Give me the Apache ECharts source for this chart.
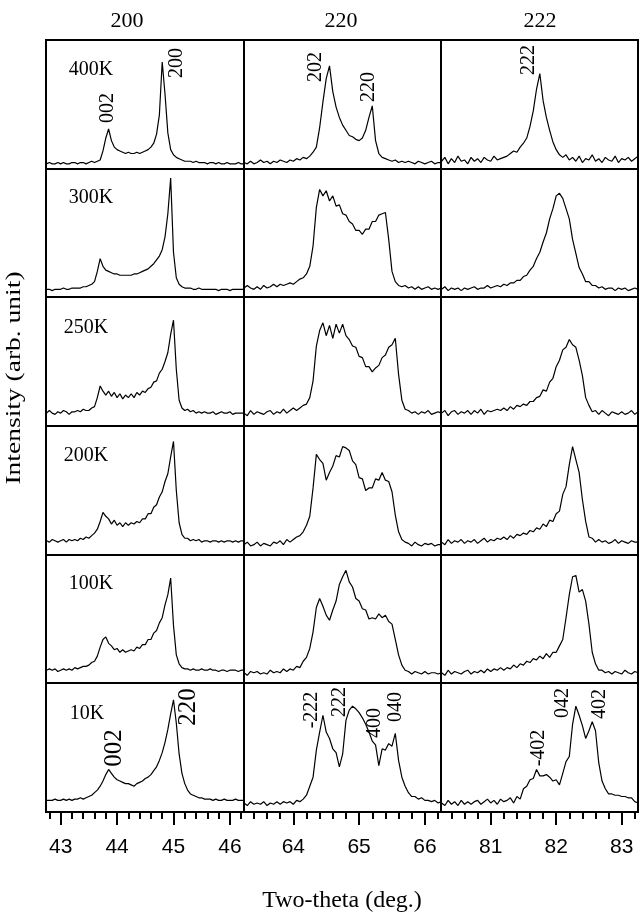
<!DOCTYPE html>
<html><head><meta charset="utf-8">
<script src="https://cdn.jsdelivr.net/npm/echarts@6/dist/echarts.min.js"></script>
<style>html,body{margin:0;padding:0;background:#fff}#c{width:640px;height:921px}</style>
</head><body><div id="c"></div>
<script>
// ---------------- DATA ----------------
const columnTitles = ['200', '220', '222'];
const rowLabels = ['400K', '300K', '250K', '200K', '100K', '10K'];

const x200 = [42.75,42.8,42.85,42.9,42.95,43,43.05,43.1,43.15,43.2,43.25,43.3,43.35,43.4,43.45,43.5,43.55,43.6,43.65,43.7,43.75,43.8,43.85,43.9,43.95,44,44.05,44.1,44.15,44.2,44.25,44.3,44.35,44.4,44.45,44.5,44.55,44.6,44.65,44.7,44.75,44.8,44.85,44.9,44.95,45,45.05,45.1,45.15,45.2,45.25,45.3,45.35,45.4,45.45,45.5,45.55,45.6,45.65,45.7,45.75,45.8,45.85,45.9,45.95,46,46.05,46.1,46.15,46.2,46.25];
const x220 = [63.25,63.3,63.35,63.4,63.45,63.5,63.55,63.6,63.65,63.7,63.75,63.8,63.85,63.9,63.95,64,64.05,64.1,64.15,64.2,64.25,64.3,64.35,64.4,64.45,64.5,64.55,64.6,64.65,64.7,64.75,64.8,64.85,64.9,64.95,65,65.05,65.1,65.15,65.2,65.25,65.3,65.35,65.4,65.45,65.5,65.55,65.6,65.65,65.7,65.75,65.8,65.85,65.9,65.95,66,66.05,66.1,66.15,66.2,66.25];
const x222 = [80.25,80.3,80.35,80.4,80.45,80.5,80.55,80.6,80.65,80.7,80.75,80.8,80.85,80.9,80.95,81,81.05,81.1,81.15,81.2,81.25,81.3,81.35,81.4,81.45,81.5,81.55,81.6,81.65,81.7,81.75,81.8,81.85,81.9,81.95,82,82.05,82.1,82.15,82.2,82.25,82.3,82.35,82.4,82.45,82.5,82.55,82.6,82.65,82.7,82.75,82.8,82.85,82.9,82.95,83,83.05,83.1,83.15,83.2,83.25];

const xRange200 = [42.74, 46.25];
const xRange220 = [63.25, 66.245];
const xRange222 = [80.241, 83.249];

const majorTicks200 = [43, 44, 45, 46];
const minorTicks200 = [42.8,43.2,43.4,43.6,43.8,44.2,44.4,44.6,44.8,45.2,45.4,45.6,45.8,46.2];
const majorTicks220 = [64, 65, 66];
const minorTicks220 = [63.4,63.6,63.8,64.2,64.4,64.6,64.8,65.2,65.4,65.6,65.8,66.2];
const majorTicks222 = [81, 82, 83];
const minorTicks222 = [80.4,80.6,80.8,81.2,81.4,81.6,81.8,82.2,82.4,82.6,82.8,83.2];

// intensities (arb. unit, % of panel height)
const i400_200 = [4,5,4,4,5,4,5,4,4,5, 5,4,5,5,4,5,6,5,6,7, 14,24,31,22,17,15,14,13,12,13, 12,12,13,12,13,14,15,17,20,27, 42,83,58,28,15,11,9,8,7,6, 6,6,5,6,5,5,5,4,5,5, 4,5,4,4,5,4,4,4,5,4, 4];
const i300_200 = [6,6,5,6,6,6,7,6,6,7, 7,7,7,8,8,9,10,12,20,30, 24,21,20,19,18,18,17,17,17,17, 17,18,18,19,20,21,22,24,26,29, 32,37,47,65,93,35,15,10,8,7, 7,7,6,6,7,6,6,6,6,6, 6,5,6,6,6,5,6,6,6,6, 6];
const i250_200 = [10,12,10,9,11,10,12,11,9,11, 11,12,11,13,12,12,14,15,22,31, 27,24,27,23,26,22,25,21,24,22, 25,22,26,24,27,26,29,30,34,35, 41,44,50,57,71,82,44,20,14,12, 13,11,12,10,11,10,11,10,10,11, 9,10,11,10,10,11,9,10,10,10, 10];
const i200_200 = [11,10,12,11,10,11,12,10,12,11, 12,11,13,12,14,13,15,17,20,26, 33,30,28,24,27,23,25,22,25,23, 25,24,26,25,28,28,32,32,37,39, 45,49,57,63,76,88,50,25,16,13, 13,11,12,11,12,10,11,11,10,11, 11,10,11,10,11,11,10,11,10,11, 11];
const i100_200 = [10,11,10,11,9,10,11,10,11,10, 12,11,12,13,13,14,16,17,21,28, 34,36,31,29,26,27,24,26,24,25, 26,25,28,27,30,30,34,34,39,41, 47,51,61,69,82,45,22,15,12,11, 11,10,11,10,10,11,10,10,11,10, 10,9,10,10,9,10,10,10,9,10, 10];
const i10_200 = [9,9,9,10,9,9,10,9,10,9, 10,10,11,10,11,12,13,15,17,20, 24,29,33,30,27,25,24,23,22,22, 21,20,22,23,24,26,27,29,32,35, 40,46,54,64,76,87,69,45,30,22, 17,14,13,12,11,11,10,10,10,9, 10,9,9,10,9,9,9,10,9,9, 9];

const i400_220 = [5,4,6,4,5,7,5,6,4,6, 5,7,6,5,7,6,8,7,9,8, 10,13,17,32,52,70,80,60,48,40, 34,30,26,25,23,22,24,30,40,49, 22,12,9,8,7,6,7,5,6,5, 6,5,4,6,5,4,5,6,4,5, 5];
const i300_220 = [7,9,7,6,8,6,9,7,8,10, 8,10,9,10,11,10,12,14,15,18, 24,40,70,84,79,83,75,79,71,72, 65,64,59,57,52,52,49,53,53,59, 59,64,65,66,45,20,12,9,8,9, 7,8,6,8,6,7,8,6,7,6, 7];
const i250_220 = [10,8,12,9,11,10,9,11,12,9, 11,10,13,10,12,14,12,14,16,17, 22,35,62,74,80,70,78,68,79,72, 79,70,67,62,61,54,53,46,46,42, 45,47,53,55,61,63,68,40,20,13, 12,10,11,9,11,10,12,9,10,11, 10];
const i200_220 = [8,10,7,8,10,7,9,8,7,10, 9,11,8,12,10,12,14,15,18,23, 30,52,78,74,71,58,64,69,77,76, 84,83,81,73,70,60,59,50,52,52, 59,58,64,58,57,49,31,18,12,10, 9,7,10,8,7,9,8,9,7,8, 8];
const i100_220 = [8,6,9,8,9,7,8,7,10,8, 9,8,11,9,11,10,13,12,17,20, 27,40,59,66,60,53,49,57,64,77, 83,88,79,75,66,64,58,57,50,51, 50,54,51,53,48,46,34,22,14,10, 9,7,9,8,7,9,7,8,8,7, 8];
const i10_220 = [7,5,8,6,7,6,8,5,7,6, 8,6,8,7,8,6,9,8,10,13, 20,27,48,62,75,62,57,49,46,35, 45,71,79,82,80,77,73,68,62,55, 52,36,49,48,53,51,61,40,27,20, 15,12,12,10,11,9,9,8,9,7, 8];

const i400_222 = [6,9,4,8,5,10,6,7,4,9, 6,8,5,9,7,6,10,7,8,9, 10,12,14,13,17,20,24,33,45,62, 74,53,40,30,21,15,11,9,11,7, 9,6,10,5,8,7,11,6,8,5, 9,7,6,10,5,8,7,9,6,8, 10];
const i300_222 = [6,8,5,7,6,7,5,7,6,7, 8,6,7,7,9,7,8,9,8,10, 9,11,11,13,13,16,17,21,24,30, 35,43,50,61,69,79,81,77,69,61, 45,34,23,18,12,12,9,9,7,8, 6,7,7,5,7,6,7,5,6,7, 6];
const i250_222 = [10,12,8,11,12,9,11,10,12,9, 12,10,13,9,12,11,12,13,12,14, 12,15,13,16,15,17,16,19,19,22, 23,28,27,34,37,46,51,59,61,67, 63,61,51,39,22,16,11,12,9,12, 10,8,11,10,9,11,9,10,12,9, 11];
const i200_222 = [10,8,12,9,11,10,12,9,11,10, 12,9,11,13,10,12,11,13,12,14, 12,15,13,16,15,17,16,19,18,21, 20,24,22,27,26,32,34,47,53,70, 84,74,64,43,26,14,13,10,12,10, 11,9,10,12,9,11,10,9,11,10, 10];
const i100_222 = [8,6,10,7,9,8,7,9,10,7, 9,8,10,8,11,9,11,10,12,10, 12,11,14,12,15,14,17,16,19,18, 21,19,23,20,24,24,29,34,51,69, 83,84,71,73,64,46,24,15,10,10, 8,9,7,9,8,7,10,8,7,9, 8];
const i10_222 = [7,5,9,6,8,5,9,6,8,6, 8,9,6,8,10,7,9,6,10,8, 9,11,7,12,10,18,20,25,26,33, 28,28,29,27,24,25,21,30,39,43, 68,82,75,67,57,63,70,63,38,24, 18,14,14,13,13,12,12,11,11,8, 7];

// peak annotations: [row, col, text, x, y, fontSize]
const peakLabels = [
  [0, 0, '002', 108, 108, 20], [0, 0, '200', 177, 63, 20],
  [0, 1, '202', 316, 67, 20], [0, 1, '220', 369, 87, 20],
  [0, 2, '222', 529, 60, 20],
  [5, 0, '002', 114, 748, 25], [5, 0, '220', 188, 707, 25],
  [5, 1, '-222', 312, 710, 20], [5, 1, '222', 340, 702, 20], [5, 1, '400', 375, 723, 20], [5, 1, '040', 396, 707, 20],
  [5, 2, '-402', 539, 748, 20], [5, 2, '042', 563, 703, 20], [5, 2, '402', 600, 704, 20]
];

// ---------------- LAYOUT ----------------
const colLeft = [46, 244, 441];
const colWidth = [198, 197, 197];
const rowTop = [40, 169, 297, 426, 555, 683];
const rowHeight = [129, 128, 129, 129, 128, 129];
const rowLabelPos = [[91, 70], [91, 198], [86, 328], [86, 456], [91, 584], [87, 714]];

const xCols = [x200, x220, x222];
const xRanges = [xRange200, xRange220, xRange222];
const majors = [majorTicks200, majorTicks220, majorTicks222];
const minors = [minorTicks200, minorTicks220, minorTicks222];
const Y = [
  [i400_200, i400_220, i400_222],
  [i300_200, i300_220, i300_222],
  [i250_200, i250_220, i250_222],
  [i200_200, i200_220, i200_222],
  [i100_200, i100_220, i100_222],
  [i10_200, i10_220, i10_222]
];

const grid = [], xAxis = [], yAxis = [], series = [];
const serif = '"Liberation Serif", "Times New Roman", serif';
const sans = '"Liberation Sans", Arial, sans-serif';

for (let r = 0; r < 6; r++) {
  for (let c = 0; c < 3; c++) {
    const gi = grid.length;
    grid.push({
      left: colLeft[c], top: rowTop[r], width: colWidth[c], height: rowHeight[r],
      show: true, borderColor: '#000', borderWidth: 2, backgroundColor: 'transparent'
    });
    const bottom = (r === 5);
    const xi = xAxis.length;
    xAxis.push({
      type: 'value', gridIndex: gi, min: xRanges[c][0], max: xRanges[c][1],
      axisLine: { show: false }, splitLine: { show: false },
      axisTick: bottom ? { show: true, inside: false, length: 13, lineStyle: { color: '#000', width: 2 }, customValues: majors[c] } : { show: false },
      axisLabel: bottom ? { show: true, customValues: majors[c], margin: 25, color: '#000', fontSize: 21, fontFamily: sans } : { show: false }
    });
    if (bottom) {
      xAxis.push({
        type: 'value', gridIndex: gi, min: xRanges[c][0], max: xRanges[c][1], position: 'bottom',
        axisLine: { show: false }, splitLine: { show: false },
        axisTick: { show: true, inside: false, length: 7, lineStyle: { color: '#000', width: 2 }, customValues: minors[c] },
        axisLabel: { show: false }
      });
    }
    yAxis.push({ type: 'value', gridIndex: gi, min: 0, max: 100, show: false });
    const xs = xCols[c], ys = Y[r][c];
    series.push({
      type: 'line', xAxisIndex: xi, yAxisIndex: gi, showSymbol: false, symbol: 'none',
      data: xs.map((x, k) => [x, ys[k]]),
      lineStyle: { color: '#000', width: 1.2 }, animation: false, silent: true
    });
  }
}

const graphic = [];
function txt(t, x, y, size, font, rot, sx) {
  graphic.push({
    type: 'text', x: x, y: y, rotation: rot || 0, scaleX: sx || 1,
    style: { text: t, fill: '#000', font: size + 'px ' + font, align: 'center', verticalAlign: 'middle', textAlign: 'center', textVerticalAlign: 'middle' }
  });
}
const headerX = [127, 341, 540];
columnTitles.forEach((t, c) => txt(t, headerX[c], 21, 22, serif));
rowLabels.forEach((t, r) => txt(t, rowLabelPos[r][0], rowLabelPos[r][1], 20, serif));
peakLabels.forEach(p => txt(p[2], p[3], p[4], p[5], serif, Math.PI / 2));
txt('Two-theta (deg.)', 342, 901, 24, serif);
txt('Intensity (arb. unit)', 14, 378, 22, serif, Math.PI / 2, 1.25);

const chart = echarts.init(document.getElementById('c'), null, { renderer: 'canvas' });
chart.setOption({ animation: false, backgroundColor: '#fff', grid, xAxis, yAxis, series, graphic });
</script>
</body></html>
